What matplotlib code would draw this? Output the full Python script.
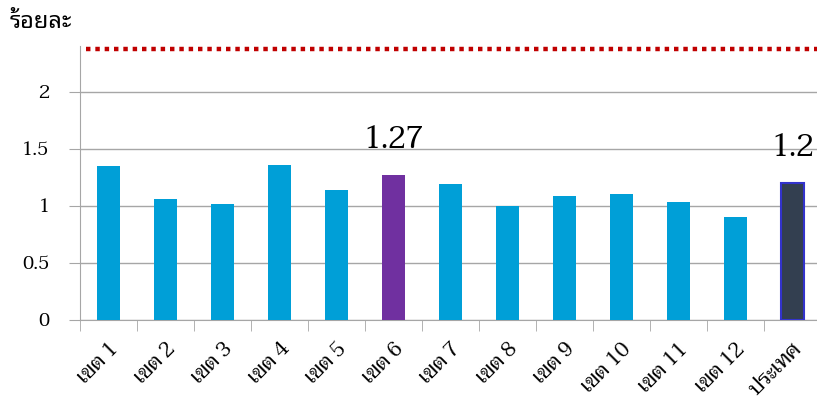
import numpy as np
import matplotlib
matplotlib.use("Agg")
import matplotlib.pyplot as plt

# regional rates (percent) and the national figure
regions = ["เขต 1", "เขต 2", "เขต 3", "เขต 4", "เขต 5", "เขต 6", "เขต 7",
           "เขต 8", "เขต 9", "เขต 10", "เขต 11", "เขต 12", "ประเทศ"]
rates = [1.35, 1.06, 1.02, 1.36, 1.14, 1.27, 1.19, 1.00, 1.09, 1.10, 1.03, 0.90, 1.20]
target = 2.37
yticks = [0, 0.5, 1, 1.5, 2]

plt.rcParams['font.family'] = ['Taviraj', 'DejaVu Sans']

fig = plt.figure(figsize=(8.17, 4.03), dpi=100)
ax = fig.add_axes([0.098, 0.206, 0.907, 0.68])

x = np.arange(len(regions))
colors = ['#009FD7'] * len(regions)
colors[5] = '#7030A0'
colors[-1] = '#333F50'
edges = ['none'] * len(regions)
edges[-1] = '#3333CC'
ax.bar(x, rates, width=0.4, color=colors, edgecolor=edges, linewidth=1.5, zorder=3)

# target line
ax.plot([-0.4, 12.5], [target, target], color='#C00000', lw=3.2,
        linestyle=(0, (1, 1.1)), solid_capstyle='butt', zorder=4)

# value labels for region 6 and the whole country
for i in (5, 12):
    ax.annotate(f"{rates[i]:g}", (x[i], rates[i]), xytext=(0, 14),
                textcoords='offset points', ha='center', va='bottom', fontsize=22)

ax.set_xlim(-0.5, 12.5)
ax.set_ylim(0, 2.4)
ax.set_yticks(yticks)
ax.set_yticklabels([f"{v:g}" for v in yticks], fontsize=14)
ax.yaxis.grid(True, color='#A6A6A6', lw=1, zorder=0)

ax.set_xticks(x)
ax.set_xticklabels(regions, rotation=45, ha='right', va='top',
                   rotation_mode='anchor', fontsize=15)
ax.tick_params(axis='x', which='major', length=0, pad=14)
ax.set_xticks(np.arange(-0.5, 13, 1), minor=True)
ax.tick_params(axis='x', which='minor', length=8, color='#A6A6A6')
ax.tick_params(axis='y', length=8, color='#A6A6A6', pad=14)

for s in ('top', 'right'):
    ax.spines[s].set_visible(False)
for s in ('left', 'bottom'):
    ax.spines[s].set_color('#A6A6A6')

fig.text(0.012, 0.945, "ร้อยละ", fontsize=17, fontweight='bold',
         family=['Noto Sans Thai Looped', 'DejaVu Sans'], va='center')

fig.savefig("out.png")
